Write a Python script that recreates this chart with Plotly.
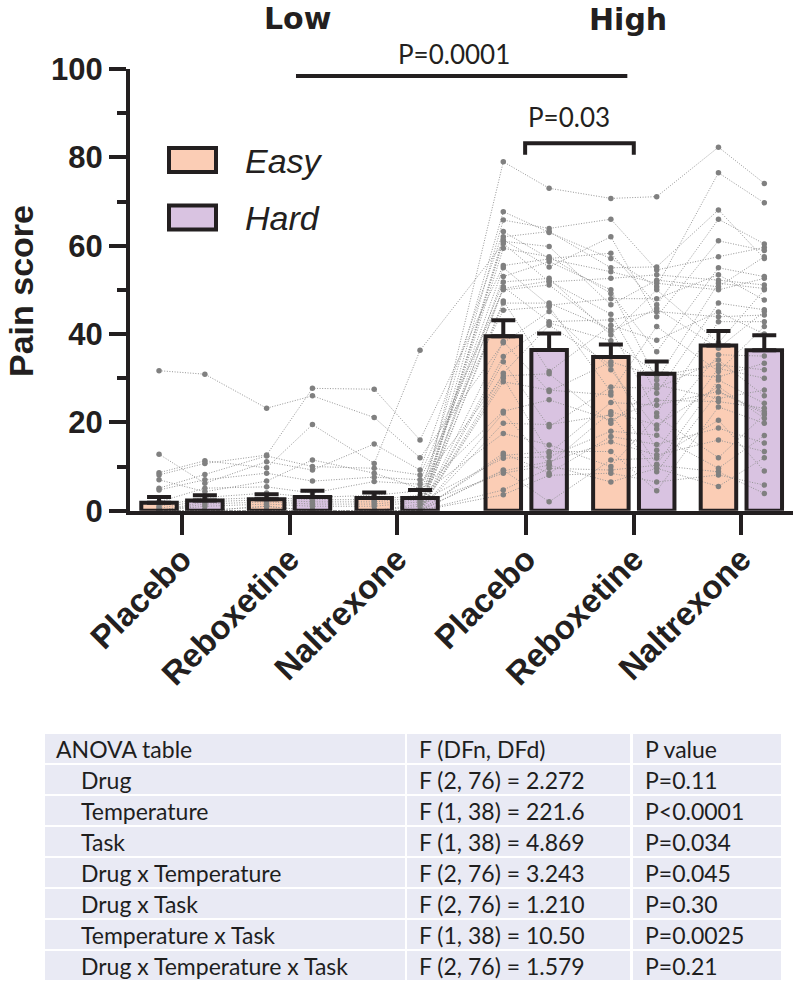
import plotly.graph_objects as go

W, H = 794, 984
INK = "#231F20"
EASY_FILL = "#FBCDB5"
HARD_FILL = "#D9C3E1"
DOT = "#808080"

# ---------------- data ----------------
drugs = ["Placebo", "Reboxetine", "Naltrexone"]
temperatures = ["Low", "High"]
tasks = ["Easy", "Hard"]

# group means and SEM (order: Low Placebo, Low Reboxetine, Low Naltrexone, High Placebo, High Reboxetine, High Naltrexone)
mean_easy = [1.8, 2.6, 2.9, 39.5, 34.8, 37.4]
sem_easy = [1.3, 1.1, 1.2, 3.6, 2.8, 3.3]
mean_hard = [2.3, 3.1, 2.9, 36.4, 31.0, 36.3]
sem_hard = [1.2, 1.4, 1.8, 3.7, 2.8, 3.4]

# individual subjects (index = subject), one list per condition
low_placebo_easy = [0, 0, 0, 12.8, 0, 0, 0, 8.6, 0, 8.1, 0, 0, 7.0,
                    0, 0, 5.1, 0, 0, 4.7, 0, 31.7, 0, 0, 0, 2.0, 0,
                    0, 1.0, 0, 0, 0.5, 0, 0, 0, 0, 0, 0, 0, 0]
low_placebo_hard = [0, 2.0, 0, 6.2, 0, 0, 0, 11.3, 0, 10.7, 1.5, 0, 4.3,
                    0, 0, 8.2, 0, 0, 7.0, 0, 30.9, 0, 0, 0, 5.1, 0,
                    0, 3.0, 0, 0, 2.5, 0, 0, 1.0, 0, 0, 0, 0, 0]
low_reboxetine_easy = [0, 2.5, 0, 11.1, 0, 0, 0, 9.7, 0, 12.6, 2.0, 0, 6.7,
                       0, 1.0, 12.4, 0, 0, 8.5, 0, 23.2, 0, 0, 0, 5.4, 0,
                       0, 4.0, 0, 0, 3.0, 0, 0, 1.5, 0, 0, 1.0, 0, 0]
low_reboxetine_hard = [0, 2.0, 0, 9.2, 0, 0, 0, 19.5, 0, 27.7, 1.5, 0, 11.5,
                       0, 0, 10.0, 0, 0, 6.7, 0, 26.0, 0, 0, 0, 4.0, 0,
                       0, 3.0, 0, 0, 2.5, 0, 0, 1.0, 0, 0, 0, 0, 0]
low_naltrexone_easy = [0, 2.0, 0, 15.1, 0, 0, 0, 10.7, 0, 27.5, 1.5, 0, 8.5,
                       0, 0, 9.6, 0, 0, 7.6, 0, 21.1, 0, 0, 0, 6.6, 0,
                       0, 3.5, 0, 0, 2.5, 0, 0, 1.0, 0, 0, 0, 0, 0]
low_naltrexone_hard = [0, 3.0, 0, 9.2, 0, 0, 0, 36.3, 0, 16.0, 2.5, 0, 5.0,
                       0, 1.0, 8.1, 0, 0, 7.0, 0, 12.0, 0, 0, 0, 6.0, 0,
                       0, 4.5, 0, 0, 3.5, 0, 0, 2.0, 0, 0, 1.5, 0, 0]
high_placebo_easy = [79.0, 67.7, 65.8, 63.2, 62.0, 61.3, 61.0, 60.5, 59.4, 55.5, 55.0, 53.0, 51.8,
                     50.7, 50.3, 50.0, 47.5, 47.0, 45.4, 38.3, 38.0, 34.9, 33.7, 31.1, 30.5, 30.0,
                     29.2, 22.5, 22.1, 19.8, 17.5, 13.0, 12.5, 11.9, 9.2, 9.0, 8.5, 4.7, 3.6]
high_placebo_hard = [73.0, 63.0, 63.9, 57.1, 63.2, 55.2, 59.8, 51.8, 57.5, 57.0, 46.5, 56.4, 52.6,
                     42.8, 52.0, 51.1, 31.5, 47.0, 46.2, 27.0, 45.1, 42.5, 19.0, 42.0, 31.0, 13.0,
                     27.3, 25.1, 10.5, 19.5, 14.9, 8.5, 13.4, 12.2, 2.0, 11.1, 10.3, 9.6, 8.0]
high_reboxetine_easy = [70.7, 57.1, 66.0, 58.3, 55.0, 62.0, 46.6, 52.6, 49.2, 54.1, 48.0, 50.0, 39.8,
                        43.2, 44.5, 40.5, 42.0, 41.0, 26.9, 33.7, 31.9, 38.5, 28.0, 33.0, 19.8, 24.5,
                        26.2, 20.5, 22.4, 21.7, 10.0, 16.8, 13.4, 18.0, 11.5, 15.6, 6.5, 9.2, 8.5]
high_reboxetine_hard = [71.1, 50.7, 54.5, 46.6, 55.2, 43.9, 52.2, 53.4, 36.0, 51.5, 48.0, 29.6, 50.0,
                        45.1, 26.6, 45.8, 38.6, 22.1, 41.7, 30.5, 18.5, 31.1, 27.7, 13.7, 28.5, 23.9,
                        10.5, 25.0, 19.4, 8.8, 21.3, 15.0, 4.5, 17.1, 11.9, 12.6, 9.6, 10.3, 6.5]
high_naltrexone_easy = [82.3, 76.5, 57.5, 66.0, 68.1, 61.1, 50.7, 52.2, 55.0, 50.0, 53.4, 51.5, 38.0,
                        43.9, 47.0, 36.8, 45.0, 42.8, 31.5, 33.0, 35.3, 30.3, 34.1, 32.2, 25.4, 27.0,
                        29.6, 24.7, 28.1, 26.9, 12.0, 18.7, 23.5, 9.6, 20.5, 16.0, 5.5, 8.8, 8.1]
high_naltrexone_hard = [74.1, 69.7, 59.6, 60.4, 57.1, 58.9, 57.5, 51.1, 53.0, 52.6, 47.7, 50.3, 50.0,
                        44.3, 45.5, 45.1, 40.0, 42.8, 41.7, 31.9, 35.0, 33.4, 26.0, 30.0, 27.3, 22.4,
                        24.3, 23.2, 20.9, 22.0, 21.7, 15.3, 19.8, 17.0, 9.0, 13.4, 12.0, 3.9, 5.8]

# ANOVA table
anova_terms = ["ANOVA table", "Drug", "Temperature", "Task", "Drug x Temperature",
               "Drug x Task", "Temperature x Task", "Drug x Temperature x Task"]
anova_f = ["F (DFn, DFd)", "F (2, 76) = 2.272", "F (1, 38) = 221.6", "F (1, 38) = 4.869",
           "F (2, 76) = 3.243", "F (2, 76) = 1.210", "F (1, 38) = 10.50", "F (2, 76) = 1.579"]
anova_p = ["P value", "P=0.11", "P&lt;0.0001", "P=0.034", "P=0.045", "P=0.30", "P=0.0025", "P=0.21"]

# ---------------- layout geometry ----------------
group_pos = [0, 1, 2, 3.2, 4.2, 5.2]
OFF = 0.213
BW = 0.33
XR = [-0.483, 5.68]
YR = [0, 100]
XDOM = [130 / W, 793 / W]
YDOM = [1 - 510.7 / H, 1 - 69 / H]


def px(x):
    return x / W


def py(y):
    return 1 - y / H


x_easy = [g - OFF for g in group_pos]
x_hard = [g + OFF for g in group_pos]
x_points = []
for g in group_pos:
    x_points += [g - OFF, g + OFF]

conditions = [low_placebo_easy, low_placebo_hard, low_reboxetine_easy, low_reboxetine_hard,
              low_naltrexone_easy, low_naltrexone_hard, high_placebo_easy, high_placebo_hard,
              high_reboxetine_easy, high_reboxetine_hard, high_naltrexone_easy, high_naltrexone_hard]

fig = go.Figure()

# bar fills (bottom layer)
fig.add_trace(go.Bar(x=x_easy, y=mean_easy, width=BW, marker=dict(color=EASY_FILL, line=dict(width=0)),
                     xaxis="x", yaxis="y", hoverinfo="skip", showlegend=False))
fig.add_trace(go.Bar(x=x_hard, y=mean_hard, width=BW, marker=dict(color=HARD_FILL, line=dict(width=0)),
                     xaxis="x", yaxis="y", hoverinfo="skip", showlegend=False))

# individual subject lines
n_subj = len(high_placebo_easy)
for s in range(n_subj):
    fig.add_trace(go.Scatter(
        x=x_points, y=[c[s] for c in conditions], mode="lines+markers",
        line=dict(color="#959595", width=1, dash="1px,1.6px"),
        marker=dict(color=DOT, size=5.5),
        cliponaxis=False, xaxis="x", yaxis="y", hoverinfo="skip", showlegend=False))

# bar outlines + SEM on overlay axes (top layer)
for xs, ms, ss in [(x_easy, mean_easy, sem_easy), (x_hard, mean_hard, sem_hard)]:
    fig.add_trace(go.Bar(
        x=xs, y=ms, width=BW,
        marker=dict(color="rgba(0,0,0,0)", line=dict(color=INK, width=4)),
        error_y=dict(type="data", array=ss, arrayminus=[0] * len(ss), symmetric=False,
                     color=INK, thickness=4, width=12),
        xaxis="x2", yaxis="y2", hoverinfo="skip", showlegend=False))

bold = dict(family="Liberation Sans", color=INK, weight="bold")

annotations = [
    dict(text="Pain score", x=px(21), y=py(291), xref="paper", yref="paper", textangle=-90,
         showarrow=False, font=dict(size=34, **bold), xanchor="center", yanchor="middle"),
    dict(text="Low", x=1.07, y=py(18), xref="x", yref="paper", showarrow=False,
         font=dict(family="DejaVu Sans", size=30, color=INK, weight="bold"), xanchor="center", yanchor="middle"),
    dict(text="High", x=4.15, y=py(20), xref="x", yref="paper", showarrow=False,
         font=dict(family="DejaVu Sans", size=30, color=INK, weight="bold"), xanchor="center", yanchor="middle"),
    dict(text="P=0.0001", x=2.53, y=py(54), xref="x", yref="paper", showarrow=False,
         font=dict(family="Lato", size=26, color=INK), xanchor="center", yanchor="middle"),
    dict(text="P=0.03", x=3.60, y=py(117), xref="x", yref="paper", showarrow=False,
         font=dict(family="Lato", size=26, color=INK), xanchor="center", yanchor="middle"),
    dict(text="<i>Easy</i>", x=px(243), y=py(161), xref="paper", yref="paper", showarrow=False,
         font=dict(family="Liberation Sans", size=34, color=INK), xanchor="left", yanchor="middle"),
    dict(text="<i>Hard</i>", x=px(243), y=py(218), xref="paper", yref="paper", showarrow=False,
         font=dict(family="Liberation Sans", size=34, color=INK), xanchor="left", yanchor="middle"),
]

shapes = [
    # P=0.0001 line
    dict(type="line", xref="x", yref="y", x0=1.06, x1=4.14, y0=98.4, y1=98.4,
         line=dict(color=INK, width=4)),
    # P=0.03 bracket
    dict(type="path", xref="x", yref="y",
         path="M 3.19 80.6 L 3.19 83.2 L 4.2 83.2 L 4.2 80.6",
         line=dict(color=INK, width=4)),
    # legend swatches
    dict(type="rect", xref="paper", yref="paper", x0=px(169), x1=px(216), y0=py(172), y1=py(148),
         fillcolor=EASY_FILL, line=dict(color=INK, width=4)),
    dict(type="rect", xref="paper", yref="paper", x0=px(169), x1=px(216), y0=py(229.5), y1=py(205.5),
         fillcolor=HARD_FILL, line=dict(color=INK, width=4)),
]

# ANOVA table drawn as cells (rects) + text
TFILL = "#E9EAF4"
TFONT = dict(family="Lato", size=23, color="#1E1E1E")
ROW_TOP = 734
ROW_PITCH = 31
ROW_H = 29
col_edges = [(45, 405), (407, 630), (633, 781)]
col_text_x = [54, 417, 643]
INDENT_X = 79
columns = [anova_terms, anova_f, anova_p]
for r in range(len(anova_terms)):
    y0 = ROW_TOP + r * ROW_PITCH
    for c, (cx0, cx1) in enumerate(col_edges):
        shapes.append(dict(type="rect", xref="paper", yref="paper", layer="below",
                           x0=px(cx0), x1=px(cx1), y0=py(y0 + ROW_H), y1=py(y0),
                           fillcolor=TFILL, line=dict(width=0)))
        tx = col_text_x[c] if not (c == 0 and r > 0) else INDENT_X
        annotations.append(dict(text=columns[c][r], x=px(tx), y=py(y0 + ROW_H / 2 + 0.5),
                                xref="paper", yref="paper", showarrow=False,
                                xanchor="left", yanchor="middle", font=TFONT))

fig.update_layout(
    width=W, height=H, margin=dict(l=0, r=0, t=0, b=0, autoexpand=False),
    paper_bgcolor="white", plot_bgcolor="rgba(0,0,0,0)",
    barmode="overlay", showlegend=False,
    xaxis=dict(domain=XDOM, range=XR, showline=True, linewidth=4, linecolor=INK,
               ticks="outside", ticklen=20, tickwidth=4, tickcolor=INK,
               tickvals=group_pos, ticktext=drugs * 2, tickangle=-45, automargin=False,
               ticklabelstandoff=-8,
               tickfont=dict(size=33, **bold), showgrid=False, zeroline=False, fixedrange=True),
    yaxis=dict(domain=YDOM, range=YR, showline=True, linewidth=4, linecolor=INK,
               ticks="outside", ticklen=17, tickwidth=4, tickcolor=INK, automargin=False,
               tickvals=[0, 20, 40, 60, 80, 100], tickfont=dict(size=31, **bold),
               minor=dict(tickvals=[10, 30, 50, 70, 90], ticks="outside", ticklen=9, tickwidth=4,
                          tickcolor=INK, showgrid=False),
               showgrid=False, zeroline=False, fixedrange=True),
    xaxis2=dict(overlaying="x", range=XR, visible=False, fixedrange=True, automargin=False),
    yaxis2=dict(overlaying="y", range=YR, visible=False, fixedrange=True, automargin=False),
    annotations=annotations, shapes=shapes,
)

fig.write_html("out.html", config={"displayModeBar": False},
               post_script="document.body.style.margin='0px';")
